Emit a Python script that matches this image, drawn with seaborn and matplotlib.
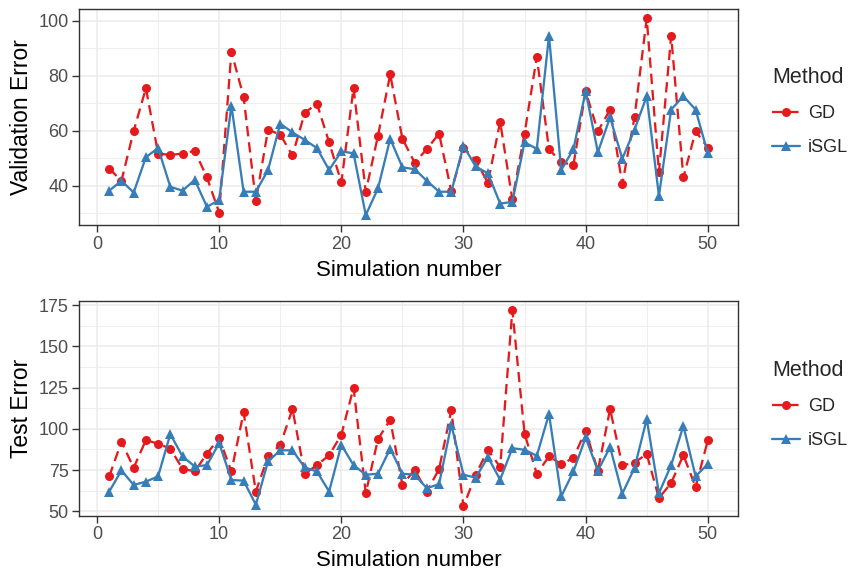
import numpy as np
import pandas as pd
import matplotlib
matplotlib.use('Agg')
import matplotlib.pyplot as plt
from matplotlib.ticker import AutoMinorLocator, MultipleLocator
import seaborn as sns

# values
sim = list(range(1, 51))

val_gd = [46.2, 41.8, 59.9, 75.5, 51.7, 51.2, 51.7, 52.7, 43.0, 30.2,
          88.8, 72.3, 34.4, 60.4, 58.6, 51.0, 66.5, 69.9, 55.8, 41.2,
          75.6, 37.8, 58.2, 80.5, 57.1, 48.4, 53.3, 59.0, 38.0, 53.9,
          49.2, 41.1, 63.3, 35.0, 59.0, 86.9, 53.3, 48.5, 47.6, 74.4,
          59.8, 67.7, 40.6, 64.9, 100.9, 44.9, 94.6, 43.0, 59.8, 53.9]
val_isgl = [38.2, 41.8, 37.5, 50.4, 53.7, 39.6, 38.2, 42.1, 32.3, 34.8,
            69.2, 37.8, 37.8, 45.7, 62.6, 59.4, 56.7, 53.7, 45.7, 52.5,
            51.8, 29.3, 39.0, 57.1, 46.7, 46.0, 41.8, 37.8, 37.8, 54.5,
            47.0, 44.5, 33.5, 34.1, 55.8, 53.4, 94.6, 45.7, 53.3, 74.4,
            52.2, 64.9, 49.8, 60.4, 72.6, 36.3, 67.7, 72.6, 67.7, 51.8]

test_gd = [71.2, 92.2, 76.4, 93.2, 91.0, 88.0, 75.8, 74.2, 85.0, 94.4,
           74.2, 110.0, 62.0, 83.3, 90.3, 112.0, 72.8, 78.0, 84.0, 96.4,
           125.0, 61.0, 93.8, 105.5, 66.0, 75.2, 62.0, 75.6, 111.3, 53.0,
           72.2, 87.3, 76.9, 172.0, 97.0, 72.8, 83.3, 78.7, 82.3, 99.0,
           74.6, 112.0, 77.8, 79.6, 84.7, 58.0, 67.2, 84.1, 64.8, 93.0]
test_isgl = [62.0, 74.8, 66.0, 68.0, 71.2, 96.8, 83.3, 77.2, 78.0, 91.4,
             69.0, 68.6, 54.0, 80.3, 87.0, 87.0, 76.6, 74.2, 62.0, 90.3,
             78.0, 72.2, 72.8, 88.0, 72.8, 72.2, 64.0, 66.5, 102.5, 72.2,
             70.4, 82.9, 69.2, 88.3, 87.3, 83.7, 109.0, 59.0, 74.2, 94.8,
             74.6, 89.0, 60.7, 76.3, 106.0, 61.0, 78.0, 101.8, 71.2, 78.7]

methods = ['GD', 'iSGL']
colors = {'GD': '#E41A1C', 'iSGL': '#377EB8'}


def long_df(gd, isgl):
    return pd.DataFrame({
        'Simulation number': sim + sim,
        'Error': gd + isgl,
        'Method': ['GD'] * len(gd) + ['iSGL'] * len(isgl),
    })


sns.set_theme(style='whitegrid')
plt.rcParams['font.family'] = ['Liberation Sans', 'DejaVu Sans']

fig = plt.figure(figsize=(8.51, 5.71), dpi=100)
ax1 = fig.add_axes([0.0932, 0.606, 0.7737, 0.379])
ax2 = fig.add_axes([0.0932, 0.097, 0.7737, 0.376])

panels = [
    (ax1, long_df(val_gd, val_isgl), 'Validation Error', (25.7, 104.5), 20, 0.523),
    (ax2, long_df(test_gd, test_isgl), 'Test Error', (47.4, 177.6), 25, 0.518),
]

for ax, df, ylabel, ylim, ystep, leg_y in panels:
    sns.lineplot(data=df, x='Simulation number', y='Error', hue='Method',
                 style='Method', hue_order=methods, style_order=methods,
                 palette=colors, markers={'GD': 'o', 'iSGL': '^'},
                 dashes={'GD': (4.5, 2.6), 'iSGL': ''},
                 linewidth=1.65, markersize=6.5, markeredgewidth=0,
                 ax=ax)
    ax.set_xlim(-1.45, 52.45)
    ax.set_ylim(*ylim)
    ax.xaxis.set_major_locator(MultipleLocator(10))
    ax.yaxis.set_major_locator(MultipleLocator(ystep))
    ax.xaxis.set_minor_locator(AutoMinorLocator(2))
    ax.yaxis.set_minor_locator(AutoMinorLocator(2))
    ax.set_facecolor('white')
    ax.grid(which='major', color='#EBEBEB', linewidth=1.1)
    ax.grid(which='minor', color='#EBEBEB', linewidth=0.6)
    ax.set_axisbelow(True)
    for s in ax.spines.values():
        s.set_color('#333333')
        s.set_linewidth(1.0)
    ax.tick_params(which='major', length=4.7, width=1, color='#333333',
                   labelsize=13, labelcolor='#4D4D4D', pad=3,
                   bottom=True, left=True)
    ax.tick_params(which='minor', length=0)
    ax.set_xlabel('Simulation number', fontsize=16, color='black', labelpad=5)
    ax.set_ylabel(ylabel, fontsize=16.5, color='black', labelpad=4)

    leg = ax.legend(title='Method', loc='center left',
                    bbox_to_anchor=(1.052, leg_y), frameon=False,
                    fontsize=13, title_fontsize=15.5, handlelength=1.55,
                    labelspacing=0.95, handletextpad=0.45, borderpad=0,
                    borderaxespad=0)
    leg._legend_box.align = 'left'

fig.savefig('out.png', dpi=100)
